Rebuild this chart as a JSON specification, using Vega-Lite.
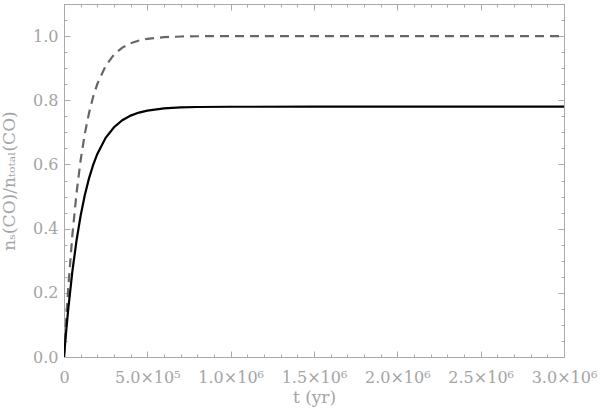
{
  "$schema": "https://vega.github.io/schema/vega-lite/v6.json",
  "width": 500,
  "height": 353,
  "autosize": {"type": "none"},
  "padding": {"left": 64, "top": 4, "right": 36, "bottom": 53},
  "background": "white",
  "config": {
    "view": {"stroke": null},
    "axis": {
      "grid": false,
      "domainColor": "#aaaaaa",
      "tickColor": "#aaaaaa",
      "labelColor": "#a4a4a4",
      "titleColor": "#a4a4a4",
      "labelFont": "DejaVu Serif",
      "titleFont": "DejaVu Serif",
      "labelFontSize": 16,
      "titleFontSize": 17,
      "titleFontWeight": "normal",
      "domainWidth": 1,
      "tickWidth": 1
    }
  },
  "data": {
    "values": [
      {"t": 0, "v": 0, "series": "total"},
      {"t": 12500, "v": 0.112, "series": "total"},
      {"t": 25000, "v": 0.212, "series": "total"},
      {"t": 50000, "v": 0.379, "series": "total"},
      {"t": 75000, "v": 0.51, "series": "total"},
      {"t": 100000, "v": 0.614, "series": "total"},
      {"t": 125000, "v": 0.696, "series": "total"},
      {"t": 150000, "v": 0.76, "series": "total"},
      {"t": 175000, "v": 0.811, "series": "total"},
      {"t": 200000, "v": 0.851, "series": "total"},
      {"t": 250000, "v": 0.9075, "series": "total"},
      {"t": 300000, "v": 0.9426, "series": "total"},
      {"t": 350000, "v": 0.9643, "series": "total"},
      {"t": 400000, "v": 0.9778, "series": "total"},
      {"t": 450000, "v": 0.9862, "series": "total"},
      {"t": 500000, "v": 0.9914, "series": "total"},
      {"t": 600000, "v": 0.9967, "series": "total"},
      {"t": 700000, "v": 0.9987, "series": "total"},
      {"t": 800000, "v": 0.9995, "series": "total"},
      {"t": 1000000, "v": 0.9999, "series": "total"},
      {"t": 1500000, "v": 1.0, "series": "total"},
      {"t": 2000000, "v": 1.0, "series": "total"},
      {"t": 2500000, "v": 1.0, "series": "total"},
      {"t": 3000000, "v": 1.0, "series": "total"},
      {"t": 0, "v": 0, "series": "s"},
      {"t": 12500, "v": 0.0772, "series": "s"},
      {"t": 25000, "v": 0.1466, "series": "s"},
      {"t": 50000, "v": 0.2658, "series": "s"},
      {"t": 75000, "v": 0.3625, "series": "s"},
      {"t": 100000, "v": 0.441, "series": "s"},
      {"t": 125000, "v": 0.5047, "series": "s"},
      {"t": 150000, "v": 0.5565, "series": "s"},
      {"t": 175000, "v": 0.5986, "series": "s"},
      {"t": 200000, "v": 0.6327, "series": "s"},
      {"t": 250000, "v": 0.6829, "series": "s"},
      {"t": 300000, "v": 0.716, "series": "s"},
      {"t": 350000, "v": 0.7378, "series": "s"},
      {"t": 400000, "v": 0.7522, "series": "s"},
      {"t": 450000, "v": 0.7617, "series": "s"},
      {"t": 500000, "v": 0.7679, "series": "s"},
      {"t": 600000, "v": 0.7747, "series": "s"},
      {"t": 700000, "v": 0.7777, "series": "s"},
      {"t": 800000, "v": 0.779, "series": "s"},
      {"t": 1000000, "v": 0.7798, "series": "s"},
      {"t": 1500000, "v": 0.78, "series": "s"},
      {"t": 2000000, "v": 0.78, "series": "s"},
      {"t": 2500000, "v": 0.78, "series": "s"},
      {"t": 3000000, "v": 0.78, "series": "s"}
    ]
  },
  "resolve": {"axis": {"x": "independent", "y": "independent"}},
  "layer": [
    {
      "transform": [{"filter": "datum.series == 'total'"}],
      "mark": {"type": "line", "color": "#666666", "strokeWidth": 2.2, "strokeDash": [9, 6], "clip": true},
      "encoding": {
        "x": {"field": "t", "type": "quantitative",
          "scale": {"domain": [0, 3000000], "nice": false, "zero": false},
          "axis": {"orient": "bottom", "values": [0, 500000, 1000000, 1500000, 2000000, 2500000, 3000000],
            "tickSize": -6, "labelPadding": 18, "labelFlush": false, "labelOverlap": false,
            "labelExpr": "datum.value == 0 ? '0' : (datum.value < 1000000 ? format(datum.value/100000, '.1f') + '×10⁵' : format(datum.value/1000000, '.1f') + '×10⁶')",
            "title": "t (yr)", "titlePadding": 4}},
        "y": {"field": "v", "type": "quantitative",
          "scale": {"domain": [0, 1.1], "nice": false, "zero": false},
          "axis": {"orient": "left", "values": [0, 0.2, 0.4, 0.6, 0.8, 1.0], "format": ".1f",
            "tickSize": -6, "labelPadding": 12, "labelFlush": false,
            "title": "nₛ(CO)/nₜₒₜₐₗ(CO)", "titlePadding": 14}}
      }
    },
    {
      "transform": [{"filter": "datum.series == 's'"}],
      "mark": {"type": "line", "color": "#000000", "strokeWidth": 2.2, "clip": true},
      "encoding": {
        "x": {"field": "t", "type": "quantitative",
          "scale": {"domain": [0, 3000000], "nice": false, "zero": false},
          "axis": {"orient": "bottom", "values": [100000, 200000, 300000, 400000, 600000, 700000, 800000, 900000, 1100000, 1200000, 1300000, 1400000, 1600000, 1700000, 1800000, 1900000, 2100000, 2200000, 2300000, 2400000, 2600000, 2700000, 2800000, 2900000],
            "tickSize": -3, "labels": false, "title": null}},
        "y": {"field": "v", "type": "quantitative",
          "scale": {"domain": [0, 1.1], "nice": false, "zero": false},
          "axis": {"orient": "left", "values": [0.05, 0.1, 0.15, 0.25, 0.3, 0.35, 0.45, 0.5, 0.55, 0.65, 0.7, 0.75, 0.85, 0.9, 0.95, 1.05],
            "tickSize": -3, "labels": false, "title": null}}
      }
    },
    {
      "mark": {"type": "line", "opacity": 0},
      "encoding": {
        "detail": {"field": "series"},
        "x": {"field": "t", "type": "quantitative",
          "scale": {"domain": [0, 3000000], "nice": false, "zero": false},
          "axis": {"orient": "top", "values": [0, 500000, 1000000, 1500000, 2000000, 2500000, 3000000],
            "tickSize": -6, "labels": false, "title": null}},
        "y": {"field": "v", "type": "quantitative",
          "scale": {"domain": [0, 1.1], "nice": false, "zero": false},
          "axis": {"orient": "right", "values": [0, 0.2, 0.4, 0.6, 0.8, 1.0],
            "tickSize": -6, "labels": false, "title": null}}
      }
    },
    {
      "mark": {"type": "line", "opacity": 0},
      "encoding": {
        "detail": {"field": "series"},
        "x": {"field": "t", "type": "quantitative",
          "scale": {"domain": [0, 3000000], "nice": false, "zero": false},
          "axis": {"orient": "top", "values": [100000, 200000, 300000, 400000, 600000, 700000, 800000, 900000, 1100000, 1200000, 1300000, 1400000, 1600000, 1700000, 1800000, 1900000, 2100000, 2200000, 2300000, 2400000, 2600000, 2700000, 2800000, 2900000],
            "tickSize": -3, "labels": false, "title": null}},
        "y": {"field": "v", "type": "quantitative",
          "scale": {"domain": [0, 1.1], "nice": false, "zero": false},
          "axis": {"orient": "right", "values": [0.05, 0.1, 0.15, 0.25, 0.3, 0.35, 0.45, 0.5, 0.55, 0.65, 0.7, 0.75, 0.85, 0.9, 0.95, 1.05],
            "tickSize": -3, "labels": false, "title": null}}
      }
    }
  ]
}
